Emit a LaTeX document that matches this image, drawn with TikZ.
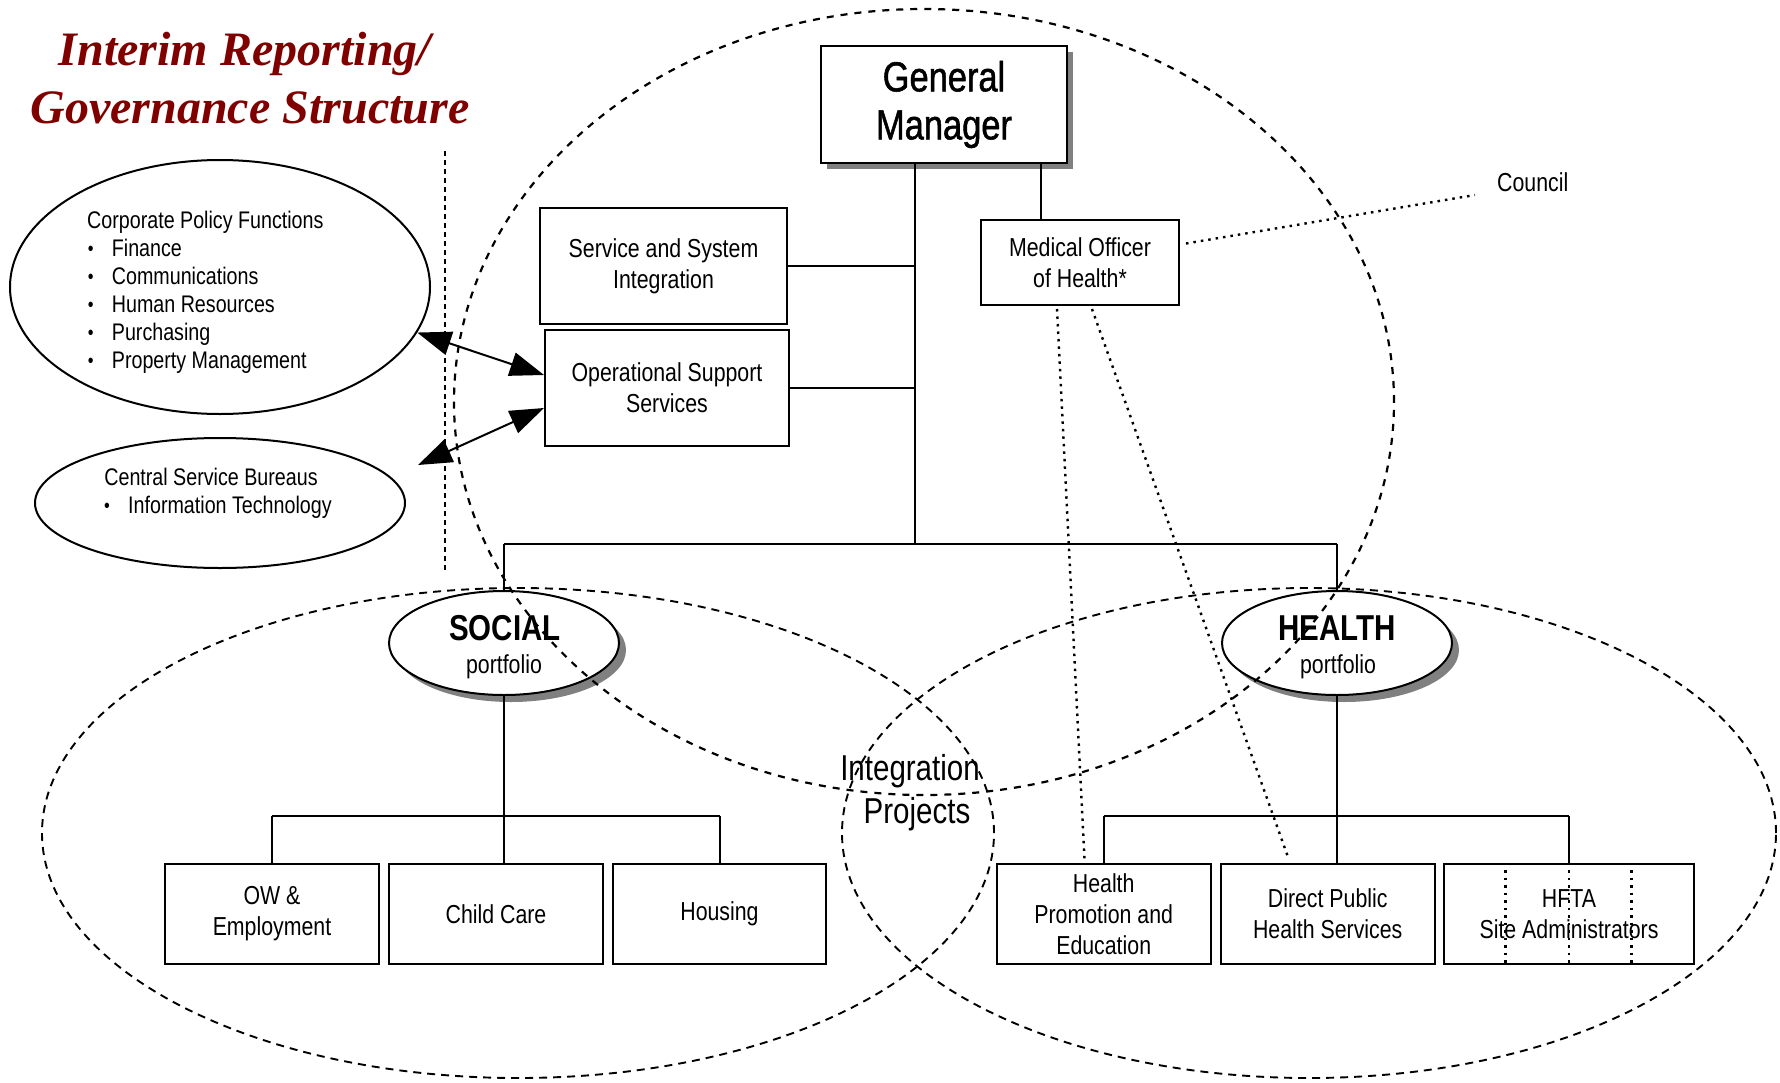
\documentclass[tikz,border=0pt]{standalone}
\usepackage{fontspec}
\setmainfont{Liberation Sans}[FakeStretch=0.82]
\newfontfamily\gmfont{Liberation Sans}[FakeStretch=0.82, FakeBold=1.2]
\newfontfamily\titlefont{Liberation Serif}
\usetikzlibrary{shapes.geometric,arrows.meta,shadows,calc}
\definecolor{titlered}{RGB}{128,0,0}
\newcommand{\myfs}[2]{\fontsize{#1}{#2}\selectfont}
\newcommand{\mybul}{\raisebox{0.5pt}{\myfs{20}{20}\textbullet}}
\begin{document}
\begin{tikzpicture}[x=1pt,y=-1pt,
  box/.style={draw, line width=2pt, fill=white, inner sep=0pt, align=center, font=\myfs{26}{31}},
  gmbox/.style={box, line width=2.5pt, font=\gmfont\myfs{42}{48},
    drop shadow={shadow xshift=6pt, shadow yshift=-6pt, fill=black!50, opacity=1}},
  portf/.style={ellipse, draw, fill=white, line width=2pt, inner sep=0pt,
    minimum width=230pt, minimum height=104pt,
    drop shadow={shadow xshift=7pt, shadow yshift=-7pt, fill=black!50, opacity=1}},
  plainell/.style={ellipse, draw, line width=2pt, inner sep=0pt},
  ring/.style={ellipse, draw, line width=2.2pt, inner sep=0pt, dash pattern=on 7pt off 7pt},
  txt/.style={inner sep=0pt, font=\myfs{26}{31}},
  smalltxt/.style={inner sep=0pt, font=\myfs{24}{28}},
  conn/.style={line width=2pt},
  dotline/.style={line width=2.4pt, dash pattern=on 2.5pt off 5pt},
  vdash/.style={line width=1.8pt, dash pattern=on 5pt off 4pt},
  dblarrow/.style={line width=2pt, {Triangle[length=34pt,width=24pt]}-{Triangle[length=34pt,width=24pt]}}
]
\useasboundingbox (0,0) rectangle (1780,1082);

% title
\node[anchor=base, inner sep=0pt, text=titlered, font=\titlefont\bfseries\itshape\myfs{48}{58}] (title1) at (245,65) {Interim Reporting/};
\node[anchor=base, inner sep=0pt, text=titlered, font=\titlefont\bfseries\itshape\myfs{48}{58}] (title2) at (250,123) {Governance Structure};

% corporate policy ellipse
\node[plainell, minimum width=420pt, minimum height=254pt] (corp) at (220,287) {};
\node[smalltxt, anchor=base west] (corpt) at (87,228) {Corporate Policy Functions};
\foreach \t [count=\i] in {Finance, Communications, Human Resources, Purchasing, Property Management} {
  \node[smalltxt, anchor=base] (cb\i) at (90.7,228+28*\i) {\mybul};
  \node[smalltxt, anchor=base west] (ci\i) at (111.7,228+28*\i) {\t};
}

% central service bureaus ellipse
\node[plainell, minimum width=370pt, minimum height=130pt] (csb) at (220,503) {};
\node[smalltxt, anchor=base] (csbt) at (211,485) {Central Service Bureaus};
\node[smalltxt, anchor=base] (csbb) at (107,513) {\mybul};
\node[smalltxt, anchor=base west] (csbi) at (128,513) {Information Technology};

% top boxes
\node[gmbox, minimum width=246pt, minimum height=117pt] (gm) at (944,104.5) {General\\Manager};
\node[box, minimum width=247pt, minimum height=116pt] (ssi) at (663.5,266) {Service and System\\Integration};
\node[box, minimum width=244pt, minimum height=116pt] (oss) at (667,388) {Operational Support\\Services};
\node[box, minimum width=198pt, minimum height=85pt] (moh) at (1080,262.5) {Medical Officer\\of Health*};
\node[txt, anchor=west] (council) at (1497,182) {Council};

% portfolios
\node[portf] (social) at (504,643) {};
\node[anchor=base, inner sep=0pt, font=\bfseries\myfs{36}{40}] (socialt) at (505,640) {SOCIAL};
\node[anchor=base, inner sep=0pt, font=\myfs{26}{30}] (socialp) at (504,673) {portfolio};
\node[portf] (health) at (1337,643) {};
\node[anchor=base, inner sep=0pt, font=\bfseries\myfs{36}{40}] (healtht) at (1337,640) {HEALTH};
\node[anchor=base, inner sep=0pt, font=\myfs{26}{30}] (healthp) at (1338,673) {portfolio};

% children
\node[box, minimum width=214pt, minimum height=100pt] (ow) at (272,914) {OW \&\\Employment};
\node[box, minimum width=214pt, minimum height=100pt] (cc) at (496,914) {Child Care};
\node[box, minimum width=213pt, minimum height=100pt] (housing) at (719.5,914) {Housing};
\node[box, minimum width=214pt, minimum height=100pt] (hpe) at (1103.7,914) {Health\\Promotion and\\Education};
\node[box, minimum width=214pt, minimum height=100pt] (dphs) at (1327.7,914) {Direct Public\\Health Services};
\node[box, minimum width=250pt, minimum height=100pt] (hfta) at (1569,914) {HFTA\\Site Administrators};

% connectors
\coordinate (trunk) at (915,544);
\coordinate (mohx) at (1041,0);
\coordinate (sbar) at (504,816);
\coordinate (hbar) at (1337,816);
\draw[conn] (gm.south -| trunk) -- (trunk);
\draw[conn] (ssi.east) -- (ssi.east -| trunk);
\draw[conn] (oss.east) -- (oss.east -| trunk);
\draw[conn] (gm.south -| mohx) -- (moh.north -| mohx);
\draw[conn] (social.north |- trunk) -- (health.north |- trunk);
\draw[conn] (social.north |- trunk) -- (social.north);
\draw[conn] (health.north |- trunk) -- (health.north);
\draw[conn] (social.south) -- (social.south |- cc.north);
\draw[conn] (ow.north |- sbar) -- (housing.north |- sbar);
\draw[conn] (ow.north |- sbar) -- (ow.north);
\draw[conn] (housing.north |- sbar) -- (housing.north);
\draw[conn] (health.south) -- (health.south |- dphs.north);
\draw[conn] (hpe.north |- hbar) -- (hfta.north |- hbar);
\draw[conn] (hpe.north |- hbar) -- (hpe.north);
\draw[conn] (hfta.north |- hbar) -- (hfta.north);

% arrows
\coordinate (csbtip) at (418,465);
\draw[dblarrow] (corp.-13) -- ($(oss.west)+(0,-13)$);
\draw[dblarrow] (csbtip) -- ($(oss.west)+(0,20)$);

% dotted lines
\draw[dotline] ($(moh.south)+(-23,3)$) -- ($(hpe.north)+(-19,0)$);
\draw[dotline] ($(moh.south)+(12,3)$) -- ($(dphs.north)+(-39,-4)$);
\draw[dotline] ($(moh.east)+(6,-19)$) -- ($(council.west)+(-22,13)$);
\foreach \dx in {-63.5,0,62.5} {
  \draw[dotline] ($(hfta.north)+(\dx,7)$) -- ($(hfta.south)+(\dx,-1)$);
}

% vertical dashed divider
\coordinate (vtop) at (445,151);
\coordinate (vbot) at (445,571);
\draw[vdash] (vtop) -- (vbot);

% dashed rings
\node[ring, minimum width=940pt, minimum height=786pt] (integring) at (924,402) {};
\node[ring, line width=1.9pt, dash pattern=on 8pt off 6pt, minimum width=952pt, minimum height=490pt] (socring) at (518,833) {};
\node[ring, line width=1.9pt, dash pattern=on 8pt off 6pt, minimum width=934pt, minimum height=490pt] (healthring) at (1309,833) {};

% integration projects label
\node[anchor=base, inner sep=0pt, font=\myfs{36}{42}] (integ1) at (910,780) {Integration};
\node[anchor=base, inner sep=0pt, font=\myfs{36}{42}] (integ2) at (917,823) {Projects};
\end{tikzpicture}
\end{document}
